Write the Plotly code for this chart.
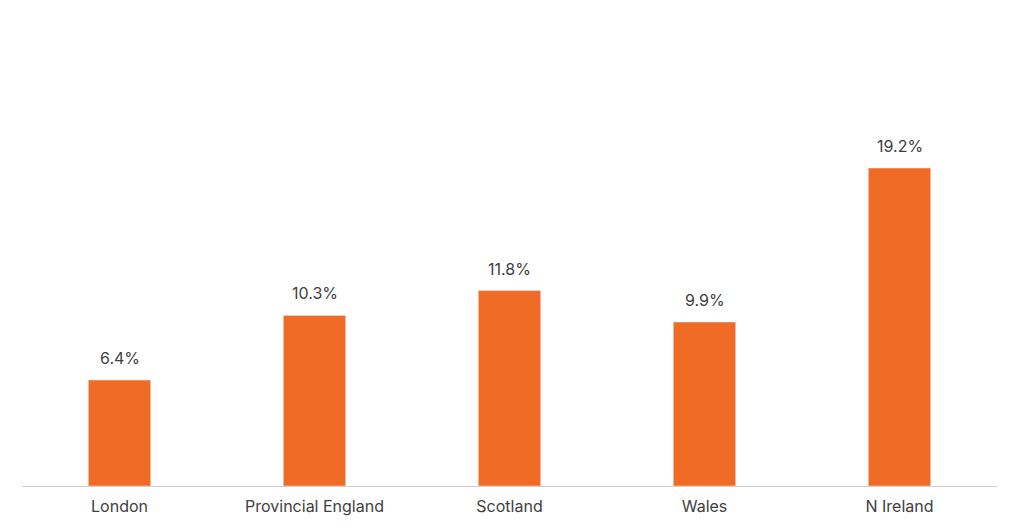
import plotly.graph_objects as go

categories = ["London", "Provincial England", "Scotland", "Wales", "N Ireland"]
values = [6.4, 10.3, 11.8, 9.9, 19.2]
labels = [f"{v:.1f}%" for v in values]

fig = go.Figure(go.Bar(
    x=categories, y=values,
    marker_color="#F06C26", width=0.32,
))
for c, v, t in zip(categories, values, labels):
    fig.add_annotation(x=c, y=v, text=t, showarrow=False, yanchor="bottom",
                       yshift=10, font=dict(size=16, color="#404040"))
fig.update_layout(
    width=1024, height=528, plot_bgcolor="white", paper_bgcolor="white",
    margin=dict(l=14, r=35, t=64, b=50),
    font=dict(family="Inter, Open Sans, sans-serif", size=16, color="#404040"),
    showlegend=False,
)
fig.update_yaxes(range=[0, 25], visible=False)
fig.update_xaxes(showline=True, linecolor="#D0D0D0", linewidth=1, ticks="",
                 ticklabelstandoff=6, tickfont=dict(size=16, color="#404040"))
fig.write_html("out.html")
